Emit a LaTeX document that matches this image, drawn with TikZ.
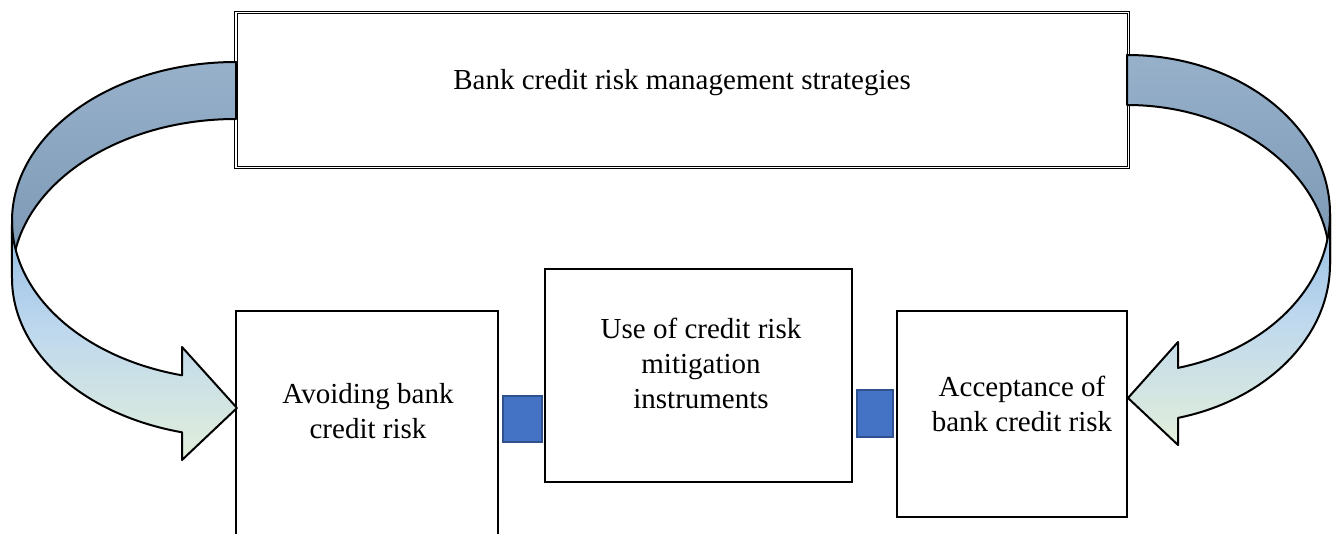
\documentclass[tikz,border=0pt]{standalone}
\usepackage{fontspec}
\setmainfont{Liberation Serif}
\definecolor{upT}{HTML}{97B1CB}
\definecolor{upB}{HTML}{7A96B2}
\definecolor{loT}{HTML}{94BDE3}
\definecolor{loM}{HTML}{BDD7EE}
\definecolor{loB}{HTML}{E2EFDA}
\definecolor{sqfill}{HTML}{4472C4}
\definecolor{sqborder}{HTML}{2F528F}
\pgfdeclareverticalshading{upshade}{100bp}{color(0bp)=(upB); color(25bp)=(upB); color(75bp)=(upT); color(100bp)=(upT)}
\pgfdeclareverticalshading{loshade}{100bp}{color(0bp)=(loB); color(25bp)=(loB); color(53bp)=(loM); color(75bp)=(loT); color(100bp)=(loT)}
\begin{document}
\begin{tikzpicture}[x=1pt,y=1pt,
  box/.style={draw=black, line width=1.8pt, fill=white, inner sep=0pt, outer sep=0pt},
  dbox/.style={draw=black, double=white, double distance=1.6pt, line width=0.9pt, fill=white, inner sep=0pt, outer sep=0pt},
  sq/.style={draw=sqborder, fill=sqfill, line width=1.2pt, inner sep=0pt, outer sep=0pt},
  txt/.style={font=\fontsize{29}{35}\selectfont, align=center, inner sep=0pt, text=black},
  band/.style={draw=black, line width=2pt, line join=round}]
\useasboundingbox (0,0) rectangle (1332,533);

% boxes
\node[dbox, minimum width=892.5pt, minimum height=155pt] (top) at (682.25,443) {};
\node[box, minimum width=262pt, minimum height=234pt] (avoid) at (367,105) {};
\node[box, minimum width=307pt, minimum height=213pt] (use) at (698.5,157.5) {};
\node[box, minimum width=230pt, minimum height=206pt] (accept) at (1012,119) {};

% texts
\node[txt, anchor=base] (ttop) at (682,443) {Bank credit risk management strategies};
\node[txt] (tavoid) at (368,122.4) {Avoiding bank\\credit risk};
\node[txt] (tuse) at (701,170) {Use of credit risk\\mitigation\\instruments};
\node[txt] (taccept) at (1022,129.4) {Acceptance of\\bank credit risk};

% connectors (small squares)
\node[sq, minimum width=39pt, minimum height=46pt] (sq1) at (522.5,114) {};
\node[sq, minimum width=36pt, minimum height=47pt] (sq2) at (875,119.5) {};

% left curved arrow
\shadedraw[band, shading=upshade] (236,471) arc[start angle=90, end angle=180, x radius=224pt, y radius=159pt] -- (12,255) arc[start angle=180, end angle=90, x radius=224pt, y radius=159pt] -- cycle;
\shadedraw[band, shading=loshade] (12,312) arc[start angle=180, end angle=256.05, x radius=224pt, y radius=159pt] -- (182,186) -- (237,125) -- (182,73) -- (182,100.7) arc[start angle=256.05, end angle=180, x radius=224pt, y radius=159pt] -- cycle;

% right curved arrow
\shadedraw[band, shading=upshade] (1127,478) arc[start angle=90, end angle=0, x radius=203pt, y radius=159pt] -- (1330,269) arc[start angle=0, end angle=90, x radius=203pt, y radius=159pt] -- cycle;
\shadedraw[band, shading=loshade] (1330,319) arc[start angle=0, end angle=-75.45, x radius=203pt, y radius=159pt] -- (1178,191) -- (1128,135) -- (1178,88) -- (1178,115.1) arc[start angle=-75.45, end angle=0, x radius=203pt, y radius=159pt] -- cycle;
\end{tikzpicture}
\end{document}
